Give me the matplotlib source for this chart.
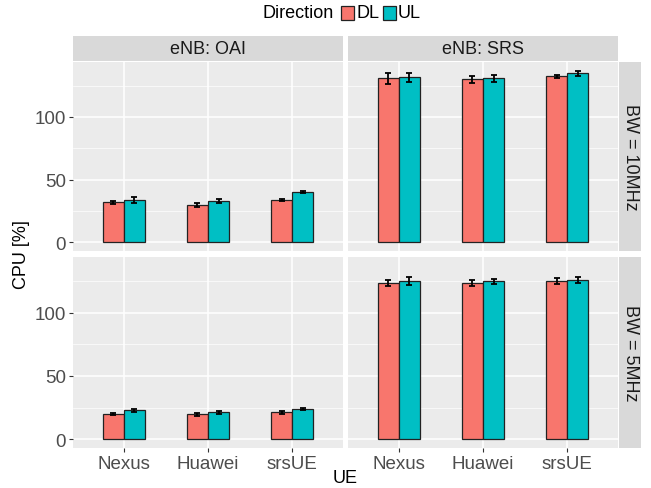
import matplotlib.pyplot as plt
import numpy as np

plt.rcParams['font.family'] = ['Liberation Sans', 'DejaVu Sans']

ues = ["Nexus", "Huawei", "srsUE"]
enbs = ["eNB: OAI", "eNB: SRS"]
bws = ["BW = 10MHz", "BW = 5MHz"]
directions = ["DL", "UL"]
colors = ["#F8766D", "#00BFC4"]

# cpu[bw][enb][direction] -> values per UE
cpu = {
    "BW = 10MHz": {
        "eNB: OAI": {"DL": [32.0, 30.0, 33.8], "UL": [34.0, 33.0, 40.0]},
        "eNB: SRS": {"DL": [130.7, 129.9, 132.3], "UL": [131.7, 130.7, 134.7]},
    },
    "BW = 5MHz": {
        "eNB: OAI": {"DL": [20.1, 19.6, 21.2], "UL": [22.8, 21.4, 24.1]},
        "eNB: SRS": {"DL": [123.3, 123.3, 124.9], "UL": [124.9, 124.6, 125.7]},
    },
}
err = {
    "BW = 10MHz": {
        "eNB: OAI": {"DL": [1.3, 1.4, 0.6], "UL": [2.2, 1.4, 0.6]},
        "eNB: SRS": {"DL": [4.2, 2.4, 1.4], "UL": [3.4, 2.9, 2.1]},
    },
    "BW = 5MHz": {
        "eNB: OAI": {"DL": [1.0, 1.2, 1.2], "UL": [1.5, 1.2, 0.6]},
        "eNB: SRS": {"DL": [2.4, 2.1, 2.4], "UL": [2.9, 2.1, 2.4]},
    },
}

W, H = 651, 489
fig = plt.figure(figsize=(W / 100, H / 100), dpi=100)


def px(x0, y0, x1, y1):
    return [x0 / W, 1 - y1 / H, (x1 - x0) / W, (y1 - y0) / H]


col_x = [(73, 343), (348, 618)]
row_y = [(63, 252), (258, 449)]
x = np.arange(1, len(ues) + 1)
bar_w = 0.25

for r, bw in enumerate(bws):
    for c, enb in enumerate(enbs):
        ax = fig.add_axes(px(col_x[c][0], row_y[r][0], col_x[c][1], row_y[r][1]))
        ax.set_facecolor("#EBEBEB")
        for d, direc in enumerate(directions):
            xs = x + (d - 0.5) * bar_w
            ax.bar(xs, cpu[bw][enb][direc], width=bar_w, color=colors[d],
                   edgecolor="#222222", linewidth=0.9, zorder=3)
            ax.errorbar(xs, cpu[bw][enb][direc], yerr=err[bw][enb][direc],
                        fmt="none", ecolor="black", elinewidth=1.3,
                        capsize=2.5, capthick=1.3, zorder=4)
        ax.set_xlim(0.4, 3.6)
        ax.set_ylim(-6.85, 143.85)
        ax.set_yticks([0, 50, 100])
        ax.set_yticks([25, 75, 125], minor=True)
        ax.set_xticks(x)
        ax.grid(True, which="major", color="white", linewidth=1.1, zorder=0)
        ax.grid(True, which="minor", axis="y", color="white", linewidth=0.5, zorder=0)
        ax.set_axisbelow(True)
        for s in ax.spines.values():
            s.set_visible(False)
        ax.tick_params(which="minor", length=0)
        ax.tick_params(which="major", color="#333333", length=3, width=0.8,
                       labelsize=13.5, labelcolor="#4D4D4D", pad=2)
        if c == 0:
            ax.set_yticklabels(["0", "50", "100"])
        else:
            ax.tick_params(axis="y", length=0, labelleft=False)
        if r == 1:
            ax.set_xticklabels(ues)
        else:
            ax.tick_params(axis="x", length=0, labelbottom=False)

        if r == 0:
            sa = fig.add_axes(px(col_x[c][0], 37, col_x[c][1], 62))
            sa.set_facecolor("#D9D9D9")
            sa.set_xticks([])
            sa.set_yticks([])
            for s in sa.spines.values():
                s.set_visible(False)
            sa.text(0.5, 0.5, enb, ha="center", va="center", fontsize=13,
                    color="#1A1A1A", transform=sa.transAxes)
        if c == 1:
            sa = fig.add_axes(px(619, row_y[r][0], 641, row_y[r][1]))
            sa.set_facecolor("#D9D9D9")
            sa.set_xticks([])
            sa.set_yticks([])
            for s in sa.spines.values():
                s.set_visible(False)
            sa.text(0.5, 0.5, bw, ha="center", va="center", fontsize=13,
                    color="#1A1A1A", rotation=-90, transform=sa.transAxes)

fig.text(22 / W, 1 - 255 / H, "CPU [%]", rotation=90, ha="center", va="center",
         fontsize=13)
fig.text(345 / W, 1 - 479 / H, "UE", ha="center", va="center", fontsize=13)

# legend
fig.text(263 / W, 1 - 14 / H, "Direction", ha="left", va="center", fontsize=13)
for d, (direc, x0) in enumerate(zip(directions, [341, 383])):
    fig.patches.append(plt.Rectangle((x0 / W, 1 - 21 / H), 13 / W, 14 / H,
                                     transform=fig.transFigure, facecolor=colors[d],
                                     edgecolor="#222222", linewidth=0.9))
    fig.text((x0 + 15) / W, 1 - 14 / H, direc, ha="left", va="center", fontsize=13)

fig.savefig("out.png", dpi=100)
